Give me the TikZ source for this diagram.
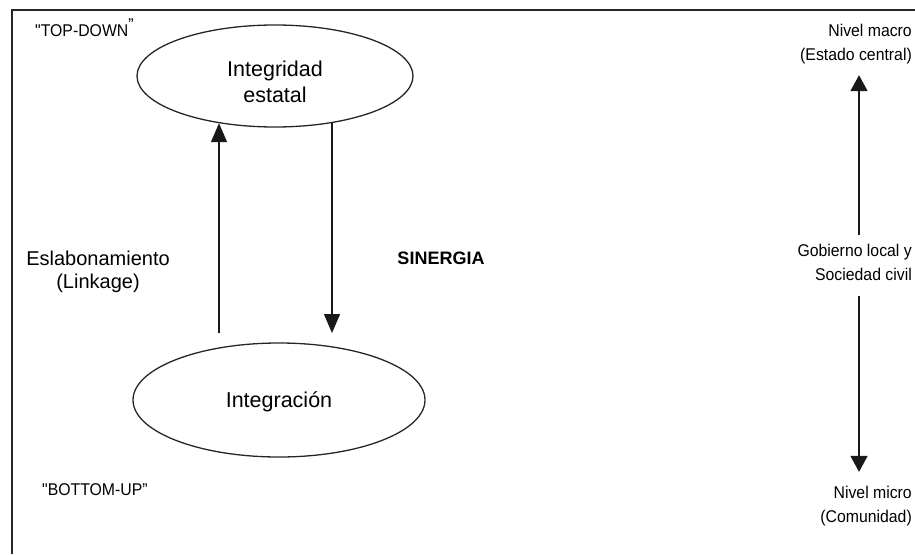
\documentclass[tikz,border=0pt]{standalone}
\usepackage{fontspec}
\setmainfont{Liberation Sans}
\newfontfamily\condfont[FakeStretch=0.93]{Liberation Sans}
\usetikzlibrary{shapes.geometric,arrows.meta}
\begin{document}
\begin{tikzpicture}[x=1pt,y=-1pt,
  frame/.style={line width=1.5pt, draw=black!85},
  oval/.style={ellipse, draw=black!85, line width=1.3pt, inner sep=0pt, align=center, font=\fontsize{21.5}{26}\selectfont},
  arr/.style={line width=1.4pt, draw=black!90, -{Triangle[width=16pt,length=19pt]}},
  arrR/.style={line width=1.4pt, draw=black!90, -{Triangle[width=17pt,length=16pt]}},
  lbl/.style={inner sep=0pt, align=center, font=\fontsize{20}{23}\selectfont},
  side/.style={inner sep=0pt, align=right, anchor=east, font=\condfont\fontsize{17}{24}\selectfont},
  tag/.style={inner sep=0pt, anchor=west, font=\condfont\fontsize{17}{20}\selectfont}]
\useasboundingbox (0,0) rectangle (915,554);
\draw[frame] (12,554) -- (12,10) -- (915,10);
\node[oval, minimum width=276pt, minimum height=102pt] (top) at (275,76) {\rule{0pt}{28pt}Integridad\\estatal};
\node[oval, minimum width=292pt, minimum height=114pt] (bot) at (279,400) {\rule{0pt}{19pt}Integración};
\coordinate (uf) at (219,333);
\coordinate (df) at (332,333);
\draw[arr] (uf) -- (uf |- top.220);
\draw[arr] (df |- top.320) -- (df);
\node[lbl] (esl) at (98,272) {Eslabonamiento\\(Linkage)};
\node[inner sep=0pt, font=\bfseries\fontsize{18}{20}\selectfont] (sin) at (441,258) {SINERGIA};
\node[tag] (td) at (35,28) {\char"22 TOP-DOWN\raisebox{6pt}{”}};
\node[tag] (bu) at (42,490) {\char"22 BOTTOM-UP”};
\node[side] (macro) at (912,44) {Nivel macro\\(Estado central)};
\node[side] (gob) at (912,262) {Gobierno local y\\Sociedad civil};
\node[side] (micro) at (912,506) {Nivel micro\\(Comunidad)};
\coordinate (ax) at (859,0);
\draw[arrR, shorten <=9pt, shorten >=11pt] (gob.north -| ax) -- (macro.south -| ax);
\draw[arrR, shorten <=16pt, shorten >=14pt] (gob.south -| ax) -- (micro.north -| ax);
\end{tikzpicture}
\end{document}
